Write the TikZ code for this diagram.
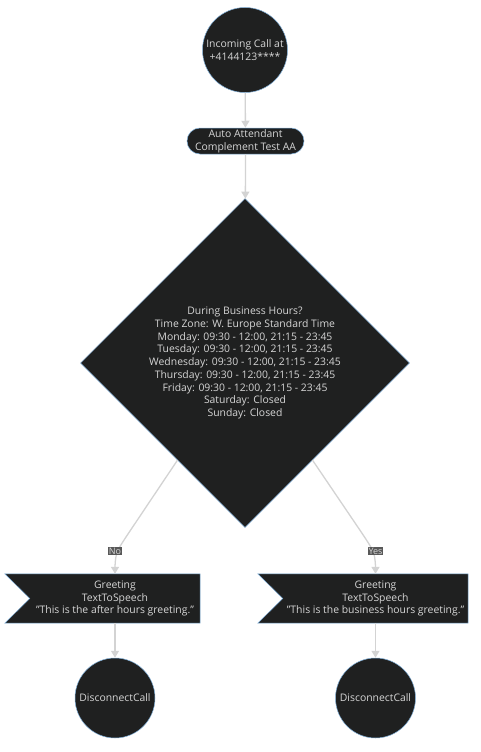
\documentclass[tikz,border=0pt]{standalone}
\usepackage{fontspec}
\setmainfont{Open Sans}
\usetikzlibrary{shapes.geometric,arrows.meta,calc,backgrounds}

\definecolor{nodefill}{HTML}{1F2020}
\definecolor{nodeline}{HTML}{81B1DB}
\definecolor{nodetext}{HTML}{D6D6D6}
\definecolor{edgeline}{HTML}{D3D3D3}
\definecolor{labelbg}{HTML}{585858}

\newcommand{\dq}{\symbol{34}}

\tikzset{
  base/.style={fill=nodefill, draw=nodeline, line width=0.5pt, text=nodetext,
    font=\fontsize{10.4}{12.75}\selectfont, align=center, inner sep=0pt},
  roundnode/.style={base, circle},
  stadium/.style={base, rounded corners=13pt, minimum width=117pt, minimum height=26pt},
  decision/.style={base, diamond, aspect=1, minimum width=329pt, minimum height=329pt},
  flagtext/.style={text=nodetext, font=\fontsize{10.4}{12.75}\selectfont, align=center,
    inner sep=0pt, minimum height=49pt},
  flagshape/.style={fill=nodefill, draw=nodeline, line width=0.5pt},
  flow/.style={draw=edgeline, line width=1.3pt,
    -{Triangle[length=7pt,width=8pt]}},
  edgelabel/.style={fill=labelbg, text=nodetext, inner sep=1pt,
    font=\fontsize{9}{9}\selectfont}
}

\begin{document}
\begin{tikzpicture}[x=1pt,y=-1pt]
  \useasboundingbox (0,0) rectangle (480,752);

  % nodes
  \node[roundnode, minimum size=85pt] (start) at (245,50) {Incoming Call at\\+4144123****};
  \node[stadium] (aa) at (245.5,141) {Auto Attendant\\Complement Test AA};
  \node[decision] (dec) at (245,363) {During Business Hours?\\Time Zone: W. Europe Standard Time\\Monday: 09:30 - 12:00, 21:15 - 23:45\\Tuesday: 09:30 - 12:00, 21:15 - 23:45\\Wednesday: 09:30 - 12:00, 21:15 - 23:45\\Thursday: 09:30 - 12:00, 21:15 - 23:45\\Friday: 09:30 - 12:00, 21:15 - 23:45\\Saturday: Closed\\Sunday: Closed};

  \node[flagtext, minimum width=170pt] (gno) at (115,598.5) {Greeting\\TextToSpeech\\\dq This is the after hours greeting.\dq};
  \node[flagtext, minimum width=185pt] (gyes) at (375.5,598.5) {Greeting\\TextToSpeech\\\dq This is the business hours greeting.\dq};

  % white page and the flag-shaped greeting boxes behind their texts
  \begin{scope}[on background layer]
    \fill[white] (0,0) rectangle (480,752);
    \path[flagshape] ([xshift=-25pt]gno.north west) -- (gno.north east) -- (gno.south east)
      -- ([xshift=-25pt]gno.south west) -- (gno.west) -- cycle;
    \path[flagshape] ([xshift=-25pt]gyes.north west) -- (gyes.north east) -- (gyes.south east)
      -- ([xshift=-25pt]gyes.south west) -- (gyes.west) -- cycle;
  \end{scope}

  \node[roundnode, minimum size=80pt] (endno) at (115,698) {DisconnectCall};
  \node[roundnode, minimum size=80pt] (endyes) at (375.5,698) {DisconnectCall};

  % connectors
  \draw[flow] (start) -- (aa);
  \draw[flow] (aa) -- (dec);

  \coordinate (noout) at ($(dec.west)!0.59!(dec.south)$);
  \coordinate (nobend) at (130,531);
  \coordinate (nodown) at (115,566);
  \draw[flow] (noout) -- (nobend) .. controls (116,552) .. (nodown) -- (gno.north);
  \node[edgelabel] (nolabel) at (115,551) {No};

  \coordinate (yesout) at ($(dec.east)!0.59!(dec.south)$);
  \coordinate (yesbend) at (360.5,531);
  \coordinate (yesdown) at (375.5,566);
  \draw[flow] (yesout) -- (yesbend) .. controls (374.5,552) .. (yesdown) -- (gyes.north);
  \node[edgelabel] (yeslabel) at (375.5,551) {Yes};

  \draw[flow] (gno) -- (endno);
  \draw[flow] (gyes) -- (endyes);
\end{tikzpicture}
\end{document}
